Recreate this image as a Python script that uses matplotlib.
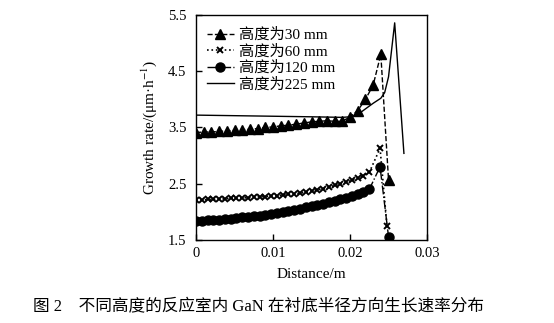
import numpy as np
import matplotlib.pyplot as plt

plt.rcParams['font.family'] = ['Liberation Serif', 'Noto Sans CJK SC']
plt.rcParams['mathtext.fontset'] = 'stix'

# 高度为30 mm (三角)
x30 = [0, 0.001, 0.002, 0.003, 0.004, 0.005, 0.006, 0.007, 0.008, 0.009,
       0.010, 0.011, 0.012, 0.013, 0.014, 0.015, 0.016, 0.017, 0.018, 0.019,
       0.020, 0.021, 0.022, 0.023, 0.024, 0.025]
y30 = [3.41, 3.42, 3.42, 3.43, 3.44, 3.45, 3.46, 3.47, 3.48, 3.50,
       3.51, 3.53, 3.54, 3.56, 3.58, 3.60, 3.61, 3.62, 3.61, 3.61,
       3.69, 3.80, 4.00, 4.25, 4.80, 2.57]

# 60 mm / 120 mm 共用的横坐标
x_fine = [0, 0.00075, 0.0015, 0.00225, 0.003, 0.00375, 0.0045, 0.00525,
          0.006, 0.00675, 0.0075, 0.00825, 0.009, 0.00975, 0.0105, 0.01125,
          0.012, 0.01275, 0.0135, 0.01425, 0.015, 0.01575, 0.0165, 0.01725,
          0.018, 0.01875, 0.0195, 0.02025, 0.021, 0.02175, 0.0225]

x60 = x_fine + [0.0239, 0.0248]
y60 = [2.21, 2.21, 2.22, 2.22, 2.23, 2.23, 2.24, 2.24, 2.25, 2.25,
       2.26, 2.27, 2.27, 2.28, 2.29, 2.30, 2.31, 2.32, 2.33, 2.35,
       2.37, 2.39, 2.41, 2.44, 2.47, 2.50, 2.53, 2.56, 2.60, 2.64,
       2.70, 3.13, 1.75]

x120 = x_fine + [0.0239, 0.0250]
y120 = [1.84, 1.84, 1.85, 1.85, 1.86, 1.87, 1.88, 1.89, 1.90, 1.91,
        1.92, 1.93, 1.95, 1.96, 1.98, 1.99, 2.01, 2.03, 2.05, 2.08,
        2.10, 2.12, 2.14, 2.17, 2.19, 2.22, 2.25, 2.28, 2.31, 2.35,
        2.40, 2.80, 1.56]

# 225 mm (实线)
x225 = [0, 0.005, 0.010, 0.015, 0.019, 0.020, 0.021, 0.022, 0.023,
        0.024, 0.0245, 0.025, 0.0258, 0.0270]
y225 = [3.72, 3.71, 3.70, 3.69, 3.68, 3.69, 3.73, 3.83, 3.93,
        4.02, 4.12, 4.40, 5.36, 3.04]

fig = plt.figure(figsize=(5.54, 3.23), dpi=100)
ax = fig.add_axes([0.3538, 0.2570, 0.4170, 0.6966])

ax.plot(x30, y30, linestyle='--', color='black', lw=1.0, marker='^', ms=6.5,
        label='高度为30 mm')
ax.plot(x60, y60, linestyle=':', color='black', lw=1.2, marker='x', ms=5,
        mew=1.4, label='高度为60 mm')
ax.plot(x120, y120, linestyle='-.', color='black', lw=1.0, marker='o', ms=6.5,
        label='高度为120 mm')
ax.plot(x225, y225, linestyle='-', color='black', lw=1.0, label='高度为225 mm')

ax.set_xlim(0, 0.03)
ax.set_ylim(1.5, 5.5)
ax.set_xticks([0, 0.01, 0.02, 0.03])
ax.set_xticklabels(['0', '0.01', '0.02', '0.03'])
ax.set_yticks([1.5, 2.5, 3.5, 4.5, 5.5])
ax.tick_params(direction='in', length=4, width=1, labelsize=10.5)
ax.tick_params(axis='y', pad=7)
ax.tick_params(axis='x', pad=5)
for sp in ax.spines.values():
    sp.set_linewidth(1.0)

ax.set_xlabel('Distance/m', fontsize=11, labelpad=6)
ax.set_ylabel('Growth rate/(μm·h$^{-1}$)', fontsize=11, labelpad=6)

ax.legend(loc='upper left', bbox_to_anchor=(0.0, 0.99), frameon=False,
          fontsize=11, handlelength=1.8, handletextpad=0.3,
          labelspacing=0.14, borderaxespad=0.3)

fig.text(0.06, 0.048, '图 2　不同高度的反应室内 GaN 在衬底半径方向生长速率分布',
         fontsize=12, ha='left', va='center')

plt.savefig('out.png', dpi=100)
